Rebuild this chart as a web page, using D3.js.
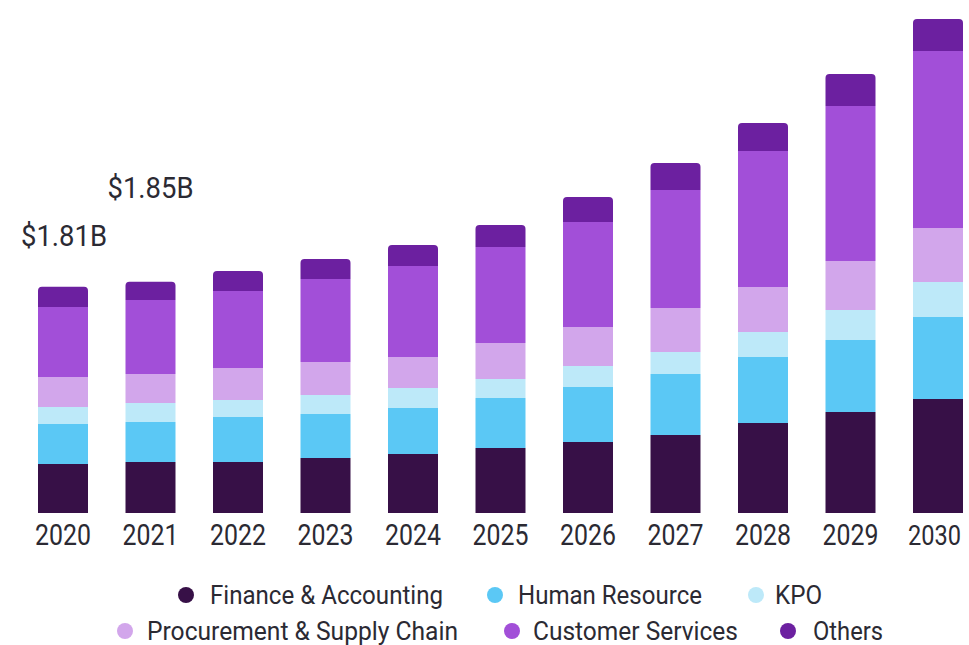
<!DOCTYPE html>
<html>
<head>
<meta charset="utf-8">
<script src="https://cdn.jsdelivr.net/npm/d3@7/dist/d3.min.js"></script>
<style>
  html, body { margin: 0; padding: 0; background: #ffffff; }
  svg { display: block; }
  text { font-family: Roboto, "Liberation Sans", sans-serif; fill: #2b2a33; }
</style>
</head>
<body>
<svg id="chart" width="969" height="645"></svg>
<script>
// ---- data (USD billions) ----
const years = ["2020","2021","2022","2023","2024","2025","2026","2027","2028","2029","2030"];
const seriesNames = ["Finance & Accounting","Human Resource","KPO","Procurement & Supply Chain","Customer Services","Others"];
const financeAccounting = [0.392,0.408,0.408,0.440,0.472,0.520,0.568,0.624,0.720,0.808,0.912];
const humanResource     = [0.320,0.320,0.360,0.352,0.368,0.400,0.440,0.488,0.528,0.576,0.656];
const kpo               = [0.136,0.152,0.136,0.152,0.160,0.152,0.168,0.176,0.200,0.240,0.280];
const procurement       = [0.240,0.232,0.256,0.264,0.248,0.288,0.312,0.352,0.360,0.392,0.432];
const customerServices  = [0.560,0.592,0.616,0.664,0.728,0.768,0.840,0.944,1.088,1.240,1.416];
const others            = [0.162,0.146,0.160,0.160,0.168,0.176,0.200,0.216,0.224,0.256,0.256];
const annotations = [{year:"2020", label:"$1.81B"}, {year:"2021", label:"$1.85B"}];
const colors = ["#371047","#5bc8f5","#bde9f9","#d2a6eb","#a24fd8","#6c20a0"];

const seriesValues = [financeAccounting, humanResource, kpo, procurement, customerServices, others];
const table = years.map((y, i) => {
  const row = {year: y};
  seriesNames.forEach((s, k) => row[s] = seriesValues[k][i]);
  return row;
});

const svg = d3.select("#chart");

const x = d3.scaleBand().domain(years).range([19.25, 981.75])
  .paddingInner(0.4286).paddingOuter(0.2143);
const y = d3.scaleLinear().domain([0, 4]).range([513, 13]);

const stacked = d3.stack().keys(seriesNames)(table);

const r = 4;
function segPath(x0, w, yTop, yBot, rounded) {
  if (!rounded) return `M${x0},${yBot}V${yTop}H${x0+w}V${yBot}Z`;
  return `M${x0},${yBot}V${yTop+r}Q${x0},${yTop} ${x0+r},${yTop}H${x0+w-r}Q${x0+w},${yTop} ${x0+w},${yTop+r}V${yBot}Z`;
}

const layers = svg.append("g").selectAll("g").data(stacked).join("g")
  .attr("fill", (d, i) => colors[i]);
layers.selectAll("path").data((d, i) => d.map(v => ({v, top: i === stacked.length - 1})))
  .join("path")
  .attr("d", d => segPath(x(d.v.data.year), x.bandwidth(), y(d.v[1]), y(d.v[0]), d.top));

// year axis
const axis = d3.axisBottom(x).tickSize(0).tickPadding(0);
const ax = svg.append("g").attr("transform", "translate(0,513)").call(axis);
ax.select(".domain").remove();
const last = years[years.length - 1];
ax.selectAll("text")
  .attr("y", 32).attr("dy", 0)
  .attr("x", d => d === last ? 23 : 0)
  .attr("text-anchor", d => d === last ? "end" : "middle")
  .style("font-family", "Roboto, sans-serif")
  .style("font-size", d => d === last ? "28px" : "29px")
  .attr("fill", "#2b2a33")
  .attr("textLength", d => d === last ? 53 : 56).attr("lengthAdjust", "spacingAndGlyphs");

// annotations
const annY = {"2020": 246, "2021": 198};
svg.append("g").selectAll("text").data(annotations).join("text")
  .attr("x", d => x(d.year) + (d.year === "2020" ? -17 : -18))
  .attr("y", d => annY[d.year])
  .attr("text-anchor", "start")
  .style("font-size", "29px")
  .attr("textLength", 86).attr("lengthAdjust", "spacingAndGlyphs")
  .text(d => d.label);

// legend
const legendPos = [
  {cx:186, cy:595, tx:210, ty:604, w:233},
  {cx:495, cy:595, tx:518, ty:604, w:184},
  {cx:756, cy:595, tx:775, ty:604, w:47},
  {cx:125, cy:631, tx:147, ty:640, w:311},
  {cx:512, cy:631, tx:533, ty:640, w:205},
  {cx:788, cy:631, tx:813, ty:640, w:70}
];
const lg = svg.append("g").selectAll("g").data(seriesNames).join("g");
lg.append("circle")
  .attr("cx", (d, i) => legendPos[i].cx).attr("cy", (d, i) => legendPos[i].cy)
  .attr("r", 8).attr("fill", (d, i) => colors[i]);
lg.append("text")
  .attr("x", (d, i) => legendPos[i].tx).attr("y", (d, i) => legendPos[i].ty)
  .style("font-size", "25px")
  .attr("textLength", (d, i) => legendPos[i].w).attr("lengthAdjust", "spacingAndGlyphs")
  .text(d => d);
</script>
</body>
</html>
